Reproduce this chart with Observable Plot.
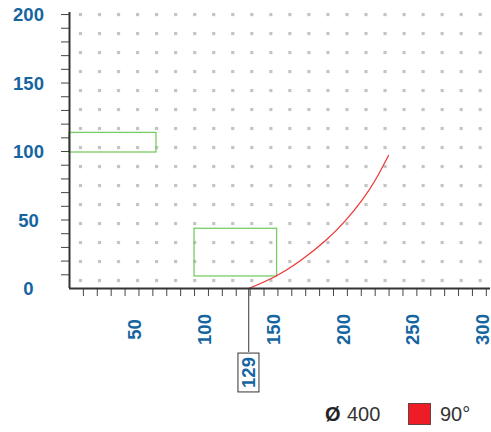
<!DOCTYPE html>
<html><head><meta charset="utf-8">
<script src="https://cdn.jsdelivr.net/npm/d3@7"></script>
<script src="https://cdn.jsdelivr.net/npm/@observablehq/plot@0.6"></script>
<style>
body{margin:0;background:#fff;font-family:"Liberation Sans",Arial,sans-serif;}
#wrap{position:relative;width:491px;height:432px;overflow:hidden;}
#legend{position:absolute;left:0;top:401px;width:491px;height:26px;font-size:20px;color:#333;}
#legend span{position:absolute;top:0;line-height:26px;}
</style></head><body><div id="wrap"></div>
<script>
// ---- data ----
const xTicks = d3.range(10, 301, 10);
const yTicks = d3.range(10, 201, 10);
const xLabels = [50, 100, 150, 200, 250, 300];
const yLabels = [0, 50, 100, 150, 200];
const marker = [129];
const curveX = [129, 148.1, 166.3, 184.3, 198.6, 210.3, 219.9, 229.6];
const curveY = [0, 8.8, 20.4, 35.0, 49.6, 64.2, 78.8, 97.1];
const boxX1 = [0, 90];
const boxX2 = [62.6, 149.4];
const boxY1 = [99.3, 8.8];
const boxY2 = [113.6, 43.6];
const legendDiameter = "400";
const legendAngle = "90°";
const blue = "#1565a0";
const FS = 18.5;

// background dot texture (decoration)
const gridXs = d3.range(22).map(i => 7.9 + 13.7 * i);
const gridYs = d3.range(15).map(i => 200 - 13.87 * i);
const grid = d3.cross(gridXs, gridYs);

const curve = curveX.map((x, i) => ({x, y: curveY[i]}));
const boxes = boxX1.map((x1, i) => ({x1, x2: boxX2[i], y1: boxY1[i], y2: boxY2[i]}));

const plot = Plot.plot({
  width: 491, height: 398,
  marginLeft: 69, marginRight: 1, marginTop: 12, marginBottom: 110,
  x: {domain: [0, 303], axis: null},
  y: {domain: [0, 201.5], axis: null},
  style: {fontFamily: '"Liberation Sans", Arial, sans-serif', background: "white", overflow: "visible"},
  marks: [
    Plot.dot(grid, {x: d => d[0], y: d => d[1], r: 1.8, symbol: "square", fill: "#c4c4c4", stroke: "none"}),
    Plot.rect(boxes, {x1: "x1", x2: "x2", y1: "y1", y2: "y2", fill: "none", stroke: "#77cc66", strokeWidth: 1.3}),
    Plot.line(curve, {x: "x", y: "y", stroke: "#ee3333", strokeWidth: 1.2, curve: "natural"}),
    Plot.axisX(xTicks, {anchor: "bottom", tickSize: 8, tickFormat: () => "", label: null, stroke: "#444"}),
    Plot.axisY(yTicks, {anchor: "left", tickSize: 8, tickFormat: () => "", label: null, stroke: "#444"}),
    Plot.ruleY([0], {stroke: "#333", strokeWidth: 2}),
    Plot.ruleX([0], {stroke: "#333", strokeWidth: 2}),
    Plot.text(yLabels, {y: d => d, frameAnchor: "left", dx: -41, dy: 1, textAnchor: "middle", text: d => String(d), fontSize: FS, fontWeight: "bold", fill: blue}),
    Plot.text(xLabels, {x: d => d, frameAnchor: "bottom", dy: 41, dx: 2.5, rotate: -90, textAnchor: "middle", text: d => String(d), fontSize: FS, fontWeight: "bold", fill: blue}),
    Plot.ruleX(marker, {stroke: "#333", strokeWidth: 1, insetTop: 276, insetBottom: -64}),
    Plot.text(marker, {x: d => d, frameAnchor: "bottom", dy: 84, dx: 6.6, rotate: -90, textAnchor: "middle", text: d => String(d), fontSize: FS, fontWeight: "bold", fill: blue})
  ]
});
document.getElementById("wrap").appendChild(plot);

// box around the marker label
const markerTexts = new Set(marker.map(String));
d3.select(plot).selectAll("text").filter(function() {
  return markerTexts.has(this.textContent.trim());
}).each(function() {
  const bb = this.getBBox();
  const t = this.getAttribute("transform");
  const c = bb.y + 0.547 * FS; // visual centre of the digits (local coords)
  d3.select(this.parentNode).insert("rect", () => this)
    .attr("transform", t)
    .attr("x", bb.x - 4).attr("width", bb.width + 8)
    .attr("y", c - 10.5).attr("height", 21)
    .attr("fill", "white").attr("stroke", "#333").attr("stroke-width", 1);
});

// legend
const lg = document.createElement("div");
lg.id = "legend";
lg.innerHTML = `<span style="left:325px;font-weight:bold;color:#222">Ø</span><span style="left:347px">${legendDiameter}</span>` +
  `<span style="left:408px;top:2px;width:23px;height:22px;box-sizing:border-box;background:#ee1c24;border:1px solid #6a4040"></span>` +
  `<span style="left:440px">${legendAngle}</span>`;
document.getElementById("wrap").appendChild(lg);
</script>
</body></html>
